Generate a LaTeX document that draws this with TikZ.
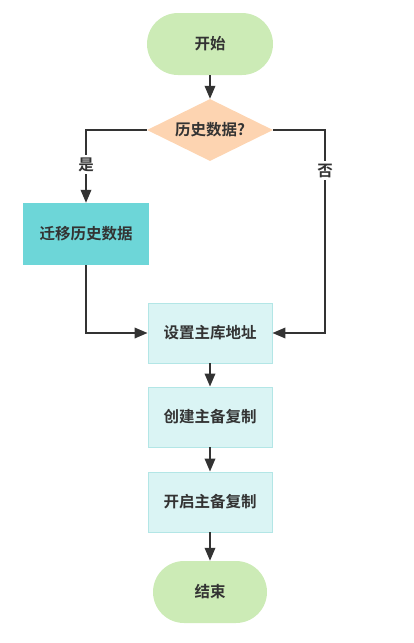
\documentclass[tikz,border=0pt]{standalone}
\usepackage{fontspec}
\newfontfamily\cjk{Noto Sans CJK SC}[BoldFont={Noto Sans CJK SC Bold}]
\usetikzlibrary{shapes.geometric,shapes.misc,arrows.meta}
\definecolor{lineC}{HTML}{333333}
\definecolor{termC}{HTML}{CCEBB6}
\definecolor{decC}{HTML}{FDD4B1}
\definecolor{tealC}{HTML}{6DD6D8}
\definecolor{procC}{HTML}{DAF4F4}
\definecolor{procB}{HTML}{B3E6E6}
\tikzset{
  x=1pt, y=-1pt,
  txt/.style={font=\cjk\bfseries\fontsize{15.5}{17}\selectfont, text=lineC},
  term/.style={txt, rounded rectangle, fill=termC, draw=none, minimum width=126pt, minimum height=62pt, inner sep=0pt},
  decision/.style={txt, diamond, aspect=2, fill=decC, draw=none, minimum width=126pt, minimum height=62pt, inner sep=0pt},
  procbox/.style={txt, rectangle, fill=procC, draw=procB, line width=0.8pt, minimum width=124pt, minimum height=60pt, inner sep=0pt},
  tealbox/.style={txt, rectangle, fill=tealC, draw=none, minimum width=126pt, minimum height=62pt, inner sep=0pt},
  conn/.style={draw=lineC, line width=1.9pt, -{Triangle[length=13pt,width=10.5pt]}},
  lbl/.style={txt, fill=white, inner sep=2.5pt}
}
\begin{document}
\begin{tikzpicture}
\useasboundingbox (0,0) rectangle (413,643);
\node[term] (start) at (210,44) {开始};
\node[decision] (dec) at (210,130) {历史数据?};
\node[tealbox] (mig) at (86,234) {迁移历史数据};
\node[procbox] (set) at (210,333) {设置主库地址};
\node[procbox] (create) at (210,417) {创建主备复制};
\node[procbox] (open) at (210,502) {开启主备复制};
\node[term, minimum width=114pt] (end) at (210,592) {结束};
\coordinate (cr) at (325,130);
\draw[conn] (start) -- (dec);
\draw[conn] (dec.west) -| node[lbl, pos=0.74] {是} (mig.north);
\draw[conn] (dec.east) -- (cr) |- node[lbl, pos=0.1] {否} (set.east);
\draw[conn] (mig.south) |- (set.west);
\draw[conn] (set) -- (create);
\draw[conn] (create) -- (open);
\draw[conn] (open) -- (end);
\end{tikzpicture}
\end{document}
